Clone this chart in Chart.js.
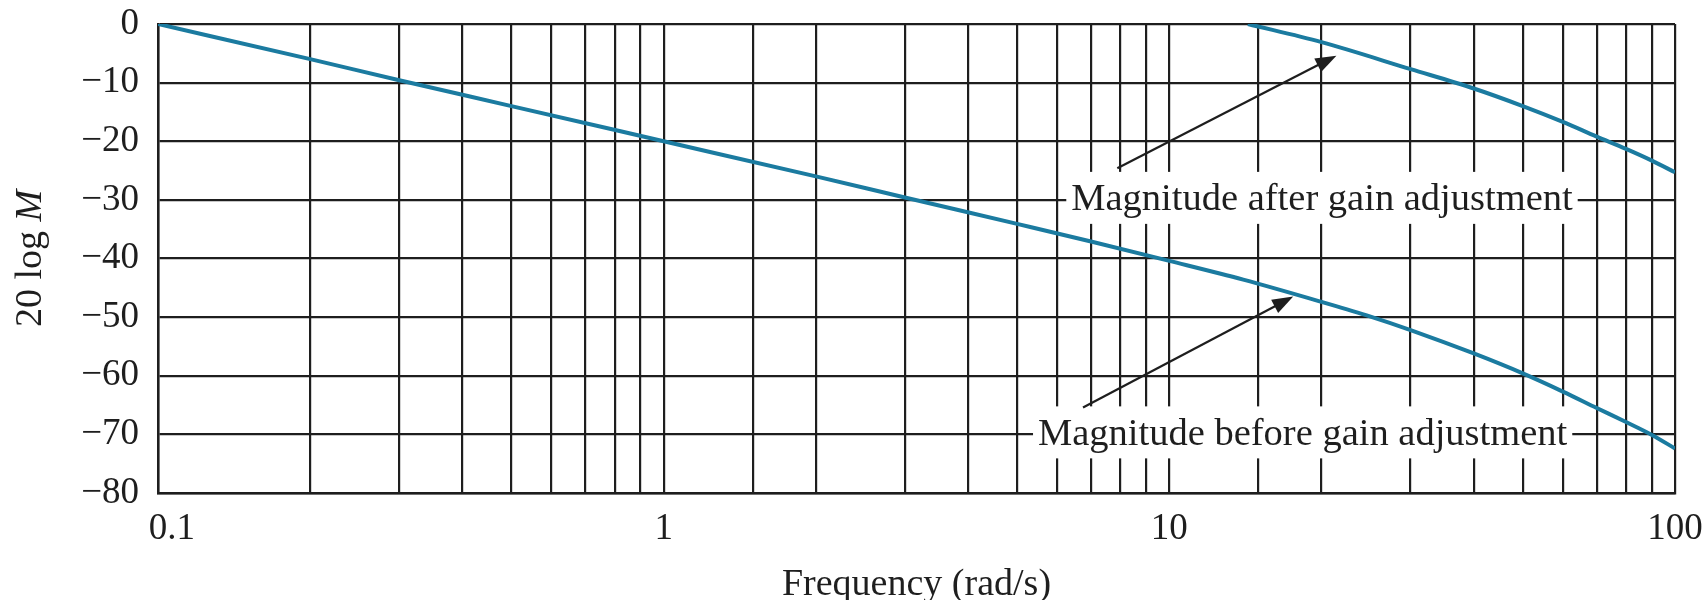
<!DOCTYPE html>
<html>
<head>
<meta charset="utf-8">
<script src="https://cdn.jsdelivr.net/npm/chart.js@4/dist/chart.umd.min.js"></script>
<style>
  html, body { margin: 0; padding: 0; background: #ffffff; }
  #wrap { width: 1704px; height: 600px; }
</style>
</head>
<body>
<div id="wrap"><canvas id="c" width="1704" height="600"></canvas></div>
<script>
// ---- data ----
const freqBefore = [0.1, 0.2, 0.3, 0.5, 1, 2, 3, 5, 7, 10, 14, 20, 25, 30, 40, 50, 60, 70, 80, 90, 100];
const magBefore  = [0, -6, -9.6, -14, -20, -26, -29.6, -34.1, -37.1, -40.4, -43.6, -47.4, -49.9, -52.2, -56.2, -59.6, -62.7, -65.5, -67.9, -70.1, -72.4];
const freqAfter  = [14.3, 20, 30, 40, 50, 60, 70, 80, 90, 100];
const magAfter   = [0, -3.1, -7.7, -11.0, -14.0, -16.7, -19.2, -21.3, -23.3, -25.3];
const xTickLabels = [0.1, 1, 10, 100];
const yTicks = [0, -10, -20, -30, -40, -50, -60, -70, -80];
const labelAfter  = 'Magnitude after gain adjustment';
const labelBefore = 'Magnitude before gain adjustment';
// annotation anchors in data units: [freq, dB]
const annAfterText  = [20.04, -30];
const annBeforeText = [18.35, -70];
const arrowAfter  = [[7.89, -24.6], [21.4, -5.4]];
const arrowBefore = [[6.75, -65.4], [17.58, -46.5]];
const xTitle = 'Frequency (rad/s)';
const yTitleMain = '20 log ';
const yTitleItalic = 'M';

const SERIF = '"Liberation Serif", "DejaVu Serif", serif';
const INK = '#1e1e1e';
const CURVE = '#1b7ba0';

function pts(xs, ys) { return xs.map((x, i) => ({ x: x, y: ys[i] })); }

const annotate = {
  id: 'annotate',
  afterDraw(chart) {
    const ctx = chart.ctx;
    const xs = chart.scales.x, ys = chart.scales.y;
    const P = (p) => [xs.getPixelForValue(p[0]), ys.getPixelForValue(p[1])];
    ctx.save();
    // labels with white background
    ctx.font = '38.5px ' + SERIF;
    ctx.textBaseline = 'alphabetic';
    ctx.textAlign = 'center';
    [[labelAfter, annAfterText], [labelBefore, annBeforeText]].forEach(([t, a]) => {
      const [cx, cy] = P(a);
      const w = ctx.measureText(t).width;
      ctx.fillStyle = '#ffffff';
      ctx.fillRect(cx - w / 2 - 5, cy - 28, w + 10, 52);
      ctx.fillStyle = INK;
      ctx.fillText(t, cx, cy + 10.5);
    });
    // arrows
    [arrowAfter, arrowBefore].forEach(([a, b]) => {
      const [x1, y1] = P(a), [x2, y2] = P(b);
      const ang = Math.atan2(y2 - y1, x2 - x1);
      const L = 21, W = 7.5;
      const bx = x2 - L * Math.cos(ang), by = y2 - L * Math.sin(ang);
      ctx.strokeStyle = INK; ctx.lineWidth = 2.2;
      ctx.beginPath(); ctx.moveTo(x1, y1); ctx.lineTo(bx + 2 * Math.cos(ang), by + 2 * Math.sin(ang)); ctx.stroke();
      ctx.fillStyle = INK;
      ctx.beginPath();
      ctx.moveTo(x2, y2);
      ctx.lineTo(bx + W * Math.sin(ang), by - W * Math.cos(ang));
      ctx.lineTo(bx - W * Math.sin(ang), by + W * Math.cos(ang));
      ctx.closePath(); ctx.fill();
    });
    // axis titles
    const ca = chart.chartArea;
    ctx.fillStyle = INK;
    ctx.font = '38px ' + SERIF;
    ctx.textAlign = 'center';
    ctx.textBaseline = 'middle';
    ctx.fillText(xTitle, (ca.left + ca.right) / 2, 585);
    ctx.translate(31, (ca.top + ca.bottom) / 2);
    ctx.rotate(-Math.PI / 2);
    const f1 = '38px ' + SERIF, f2 = 'italic 38px ' + SERIF;
    ctx.font = f1; const w1 = ctx.measureText(yTitleMain).width;
    ctx.font = f2; const w2 = ctx.measureText(yTitleItalic).width;
    ctx.textAlign = 'left';
    ctx.font = f1; ctx.fillText(yTitleMain, -(w1 + w2) / 2, 0);
    ctx.font = f2; ctx.fillText(yTitleItalic, -(w1 + w2) / 2 + w1, 0);
    ctx.restore();
  }
};

new Chart(document.getElementById('c'), {
  type: 'line',
  data: {
    datasets: [
      { data: pts(freqBefore, magBefore), borderColor: CURVE, borderWidth: 4, pointRadius: 0, cubicInterpolationMode: 'monotone', fill: false },
      { data: pts(freqAfter, magAfter), borderColor: CURVE, borderWidth: 4, pointRadius: 0, cubicInterpolationMode: 'monotone', fill: false }
    ]
  },
  options: {
    responsive: false,
    animation: false,
    events: [],
    layout: { padding: { left: 0, right: 29, top: 24, bottom: 0 } },
    plugins: { legend: { display: false }, tooltip: { enabled: false } },
    scales: {
      x: {
        type: 'logarithmic',
        min: 0.1, max: 100,
        afterFit(s) { s.height = 107; s.paddingLeft = 0; s.paddingRight = 0; },
        grid: { color: INK, lineWidth: 2.2, drawTicks: false },
        border: { color: INK, width: 2.5 },
        ticks: {
          autoSkip: false, maxRotation: 0, padding: 14,
          color: INK, font: { family: SERIF, size: 37 },
          callback(v) {
            const n = Number(v);
            if (!xTickLabels.includes(n)) return '';
            return n === xTickLabels[0] ? '   ' + String(n) : String(n);
          }
        }
      },
      y: {
        type: 'linear',
        min: -80, max: 0,
        afterFit(s) { s.width = 158; s.paddingTop = 0; s.paddingBottom = 0; },
        afterBuildTicks(s) { s.ticks = yTicks.map(v => ({ value: v })); },
        grid: { color: INK, lineWidth: 2.2, drawTicks: false },
        border: { color: INK, width: 2.5 },
        ticks: {
          padding: 19, color: INK, font: { family: SERIF, size: 37 },
          callback(v) { return v < 0 ? '\u2212' + Math.abs(v) : String(v); }
        }
      }
    }
  },
  plugins: [annotate]
});
</script>
</body>
</html>
